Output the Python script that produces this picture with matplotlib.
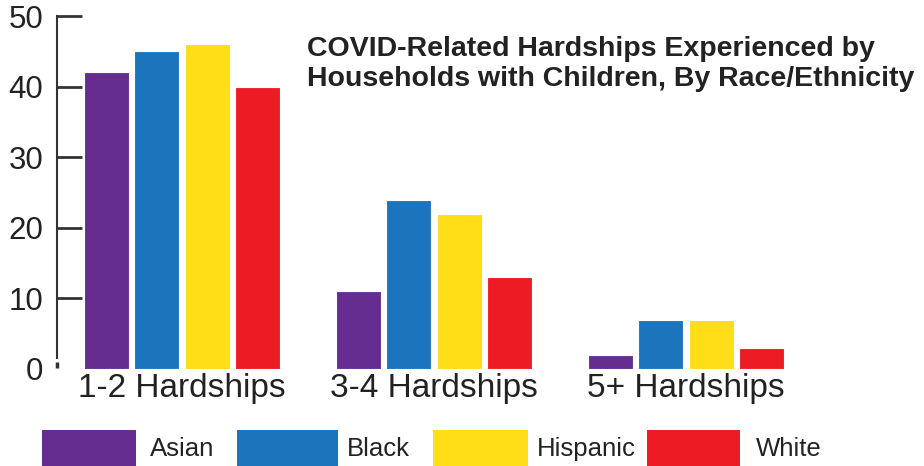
import matplotlib
matplotlib.use("Agg")
import matplotlib.pyplot as plt
from matplotlib.patches import Rectangle
import numpy as np

categories = ["1-2 Hardships", "3-4 Hardships", "5+ Hardships"]
series_names = ["Asian", "Black", "Hispanic", "White"]
asian = [42, 11, 2]
black = [45, 24, 7]
hispanic = [46, 22, 7]
white = [40, 13, 3]
yticks = [0, 10, 20, 30, 40, 50]
colors = ["#662D91", "#1C75BC", "#FFDE17", "#ED1C24"]

W, H = 924, 466
fig = plt.figure(figsize=(W / 100, H / 100), dpi=100)
fig.patch.set_facecolor("white")

left_px, right_px = 57, 924
top_px, bot_px = 16, 369
ax = fig.add_axes([left_px / W, 1 - bot_px / H, (right_px - left_px) / W, (bot_px - top_px) / H])

regular = ["Liberation Sans", "DejaVu Sans"]

x = np.arange(len(categories))
step = 0.2
width = 0.18
for i, (name, vals) in enumerate(zip(series_names, [asian, black, hispanic, white])):
    ax.bar(x + (i - 1.5) * step, vals, width=width, color=colors[i],
           edgecolor="white", linewidth=0.8, zorder=2)

xmin = -0.496
ax.set_xlim(xmin, xmin + (right_px - left_px) / 252.0)
ax.set_ylim(0, 50)

for s in ["top", "right", "bottom"]:
    ax.spines[s].set_visible(False)
ax.spines["left"].set_color("#333333")
ax.spines["left"].set_linewidth(1.5)
ax.spines["left"].set_bounds(1.5, 50)
# small detached piece of the axis line near zero
ax.plot([0, 0], [0.15, 1.0], transform=ax.get_yaxis_transform(), color="#333333",
        linewidth=2.5, solid_capstyle="butt", clip_on=False)

ax.set_yticks(yticks)
ax.set_yticklabels([str(t) for t in yticks], fontfamily=regular, fontsize=22.5, color="#222222")
ax.tick_params(axis="y", direction="in", length=18, width=2, color="#333333", pad=10)
ax.yaxis.get_major_ticks()[0].tick1line.set_visible(False)

ax.set_xticks(x)
ax.set_xticklabels(categories, fontfamily=regular, fontsize=24, color="#222222")
ax.tick_params(axis="x", length=0, pad=3)

fig.text(307 / W, 1 - 36 / H,
         "COVID-Related Hardships Experienced by\nHouseholds with Children, By Race/Ethnicity",
         fontfamily=regular, fontweight="bold", fontsize=20.5, color="#222222",
         ha="left", va="top", linespacing=1.2)

# legend
patch_x = [42, 237, 433, 647]
patch_w = [94, 101, 95, 93]
label_x = [150, 347, 537, 756]
for i, name in enumerate(series_names):
    fig.patches.append(Rectangle((patch_x[i] / W, 0), patch_w[i] / W, 36 / H,
                                 transform=fig.transFigure, facecolor=colors[i],
                                 edgecolor="none"))
    fig.text(label_x[i] / W, 1 - 449 / H, name, fontfamily=regular, fontsize=18.5,
             color="#222222", ha="left", va="center")

fig.savefig("out.png", dpi=100)
